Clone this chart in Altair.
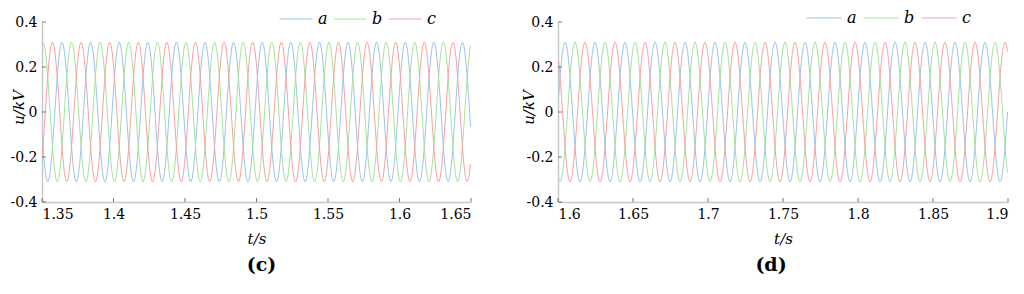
import altair as alt
import pandas as pd

CYCLE = [0.000, 0.0645, 0.1261, 0.1822, 0.2304, 0.2685, 0.2948, 0.3083, 0.3083, 0.2948,
         0.2685, 0.2304, 0.1822, 0.1261, 0.0645, 0.000, -0.0645, -0.1261, -0.1822, -0.2304,
         -0.2685, -0.2948, -0.3083, -0.3083, -0.2948, -0.2685, -0.2304, -0.1822, -0.1261, -0.0645]
PERIOD = 0.02
PHASES = ["a", "b", "c"]
PHASE_LAG = [0, 10, 20]          # sample lag of each phase inside the cycle (120 deg steps)
COLORS = ["#9cc4e8", "#a6e29c", "#f6a2a2"]

# panel (c)
C_RANGE = [1.35, 1.65]
C_BASE = 1.3390                   # rising zero crossing of phase a just before the window
C_XTICKS = [1.35, 1.4, 1.45, 1.5, 1.55, 1.6, 1.65]
# panel (d)
D_RANGE = [1.6, 1.9]
D_BASE = 1.5797
D_XTICKS = [1.6, 1.65, 1.7, 1.75, 1.8, 1.85, 1.9]

Y_TICKS = [-0.4, -0.2, 0, 0.2, 0.4]
FONT = "DejaVu Serif"


def build(rng, base):
    rows = []
    n = len(CYCLE)
    step = PERIOD / n
    k = 0
    while True:
        t = base + k * step
        if t > rng[1] + 1e-9:
            break
        if t >= rng[0] - 1e-9:
            for ph, lag in zip(PHASES, PHASE_LAG):
                rows.append({"t": round(t, 6), "u": CYCLE[(k - lag) % n], "phase": ph})
        k += 1
    return pd.DataFrame(rows)


def panel(rng, base, xticks, width, lx, ly, sym, colpad, label, ytitle_x, label_dx):
    df = build(rng, base)
    xs = alt.Scale(domain=rng, nice=False, zero=False)
    ys = alt.Scale(domain=[-0.4, 0.4], nice=False)
    lines = alt.Chart(df).mark_line(strokeWidth=1, clip=True).encode(
        x=alt.X("t:Q", scale=xs, axis=alt.Axis(
            values=xticks, title="t/s", labelExpr="format(datum.value, '.3~g')",
            titleY=41, titleBaseline="alphabetic")),
        y=alt.Y("u:Q", scale=ys, axis=alt.Axis(
            values=Y_TICKS, title="u/kV",
            labelExpr="datum.value == 0 ? '0' : (datum.value < 0 ? '-' + format(-datum.value, '.1f') : format(datum.value, '.1f'))",
            titleX=ytitle_x, titleY=85, titleBaseline="middle", titleAlign="center")),
        color=alt.Color("phase:N", scale=alt.Scale(domain=PHASES, range=COLORS),
                        legend=alt.Legend(orient="none", legendX=lx, legendY=ly, direction="horizontal",
                                          title=None, symbolType="stroke", symbolSize=sym * sym,
                                          symbolStrokeWidth=1, labelFont=FONT, labelFontStyle="italic",
                                          labelFontSize=16, labelColor="black", labelOffset=5,
                                          columnPadding=colpad)),
        order=alt.Order("t:Q"),
    )
    xt = alt.Chart(pd.DataFrame({"t": xticks})).mark_tick(
        orient="vertical", size=4, yOffset=-2, thickness=1, color="#444").encode(
        x=alt.X("t:Q", scale=xs), y=alt.datum(-0.4))
    yt = alt.Chart(pd.DataFrame({"u": Y_TICKS})).mark_tick(
        orient="horizontal", size=4, xOffset=2, thickness=1, color="#444").encode(
        y=alt.Y("u:Q", scale=ys), x=alt.datum(rng[0]))
    return alt.layer(lines, xt, yt).properties(
        width=width, height=180,
        title=alt.TitleParams(text=label, orient="bottom", font=FONT, fontSize=19, fontWeight="bold",
                              anchor="middle", offset=10, dx=label_dx, color="black"),
    ).resolve_legend(color="independent")


pc = panel(C_RANGE, C_BASE, C_XTICKS, 429, 237, -20, 33, 3, "(c)", -24, 5)
pd_ = panel(D_RANGE, D_BASE, D_XTICKS, 450, 248, -22, 35, 4, "(d)", -30, -12)

chart = alt.hconcat(pc, pd_, spacing=87, bounds="flush").resolve_legend(color="independent").resolve_scale(
    color="independent", x="independent").properties(padding={"left": 2, "top": -8, "right": 0, "bottom": 0}).configure_view(
    stroke=None).configure_axis(
    labelFont=FONT, labelFontSize=14, labelColor="black", titleFont=FONT, titleFontSize=15,
    titleFontStyle="italic", titleFontWeight="normal", titleColor="black", domainColor="#c8c8c8",
    domainWidth=1.5, ticks=False, grid=False, labelPadding=5)

chart.save("out.html", embed_options={"renderer": "svg", "actions": False})
